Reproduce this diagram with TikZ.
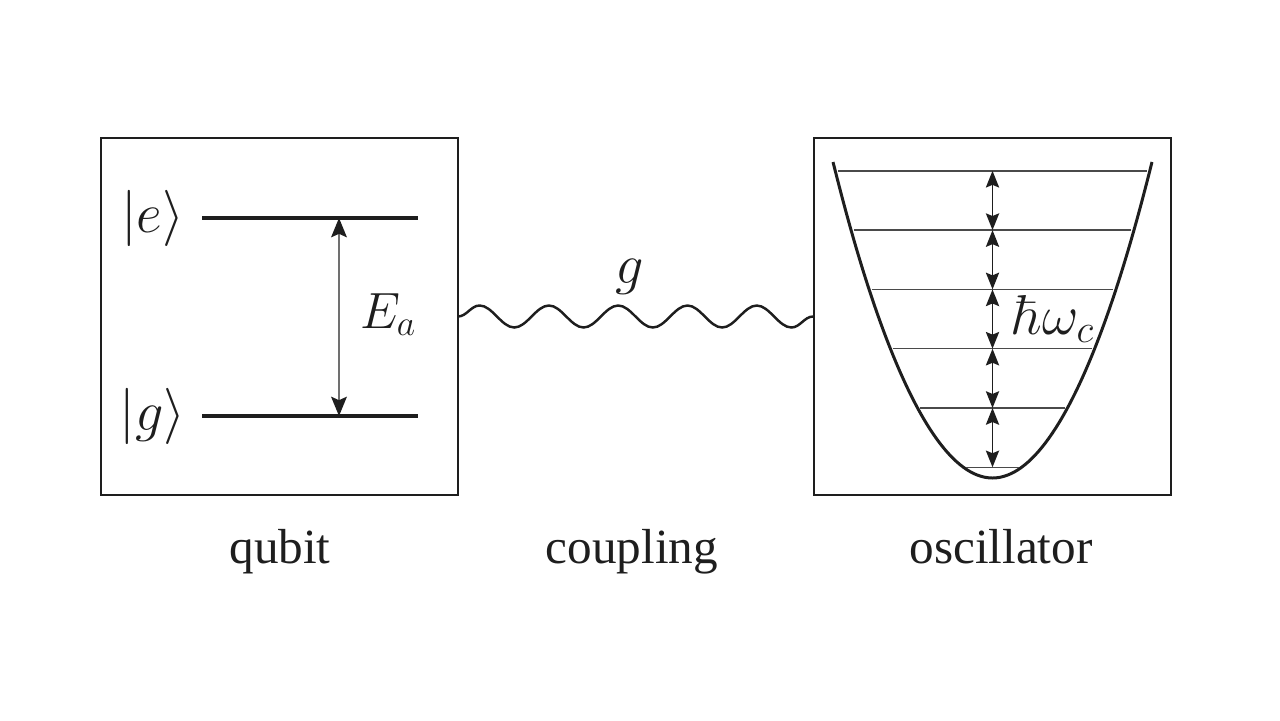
\RequirePackage{fix-cm}
\documentclass[tikz,border=0pt]{standalone}
\usepackage[no-math]{fontspec}
\setmainfont{Liberation Serif}
\usepackage{tikz}
\usetikzlibrary{positioning, arrows.meta, decorations.pathmorphing, calc}
\definecolor{inkDark}{HTML}{1E1E1E}
\definecolor{rungGray}{HTML}{4A4A4A}
\definecolor{stemGray}{HTML}{707070}

\begin{document}
\begin{tikzpicture}[x=0.02cm, y=-0.02cm,
        every node/.style={inner sep=0pt, outer sep=0pt, text=inkDark},
        boxP/.style={rectangle, draw=inkDark, line width=1.4pt,
                     minimum width=7.14cm, minimum height=7.14cm},
        levelQ/.style={draw=inkDark, line width=1.8pt},
        gapQ/.style={draw=stemGray, line width=0.8pt,
                     {Stealth[length=11pt, width=9pt, inset=2pt, color=inkDark]}-{Stealth[length=11pt, width=9pt, inset=2pt, color=inkDark]}},
        wellO/.style={draw=inkDark, line width=1.7pt},
        rungO/.style={draw=rungGray, line width=0.9pt},
        gapO/.style={draw=inkDark, line width=1.1pt,
                     {Stealth[length=9.5pt, width=7.5pt, inset=1.5pt]}-{Stealth[length=9.5pt, width=7.5pt, inset=1.5pt]}},
        wiggle/.style={draw=inkDark, line width=1.4pt, decorate,
                       decoration={snake, segment length=1.386cm, amplitude=0.22cm}},
        ketS/.style={font=\fontsize{32}{38}\selectfont},
        symS/.style={font=\fontsize{29}{34}\selectfont},
        capT/.style={font=\fontsize{28}{34}\selectfont, anchor=base},
      ]
        \useasboundingbox (0,0) rectangle (1280,720);

        % two panels
        \node[boxP] (qubit) at (279.5,316.5) {};
        \node[boxP, right=7.12cm of qubit] (osc) {};

        % qubit levels
        \coordinate (eL) at (202,218);
        \coordinate (eR) at (418,218);
        \coordinate (gL) at (202,416);
        \coordinate (gR) at (418,416);
        \coordinate (eA) at (339,218);
        \coordinate (gA) at (339,416);
        \draw[levelQ] (eL) -- (eR);
        \draw[levelQ] (gL) -- (gR);
        \node[ketS, left=0.36cm of eL] (ket-e) {$|e\rangle$};
        \node[ketS, left=0.33cm of gL] (ket-g) {$|g\rangle$};
        \draw[gapQ] (gA) -- (eA);
        \node[symS, anchor=base west] (Ea) at (360,328) {$E_a$};

        % coupling
        \draw[wiggle] (qubit.east) -- (osc.west);
        \node[ketS, anchor=base] (g) at (630,283) {$g$};

        % oscillator
        \draw[wellO] (833,162) parabola bend (992.5,478) (1152,162);
        \foreach \i in {0,...,5} {
          \pgfmathsetmacro\yy{467.3-59.3*\i}
          \pgfmathsetmacro\ww{sqrt(478-\yy)*8.973-3}
          \coordinate (lv\i) at (992.5,\yy);
          \draw[rungO] (992.5-\ww,\yy) -- (992.5+\ww,\yy);
        }
        \foreach \i [evaluate=\i as \j using int(\i+1)] in {0,...,4}
          \draw[gapO] (lv\i) -- (lv\j);
        \node[ketS, anchor=base west] (hw) at (1013,334) {$\hbar\omega_c$};

        % captions
        \node[capT] (qubit-cap) at (280,563) {qubit};
        \node[capT] (coup-cap) at (632,563) {coupling};
        \node[capT] (osc-cap) at (1001,563) {oscillator};
      \end{tikzpicture}
\end{document}
